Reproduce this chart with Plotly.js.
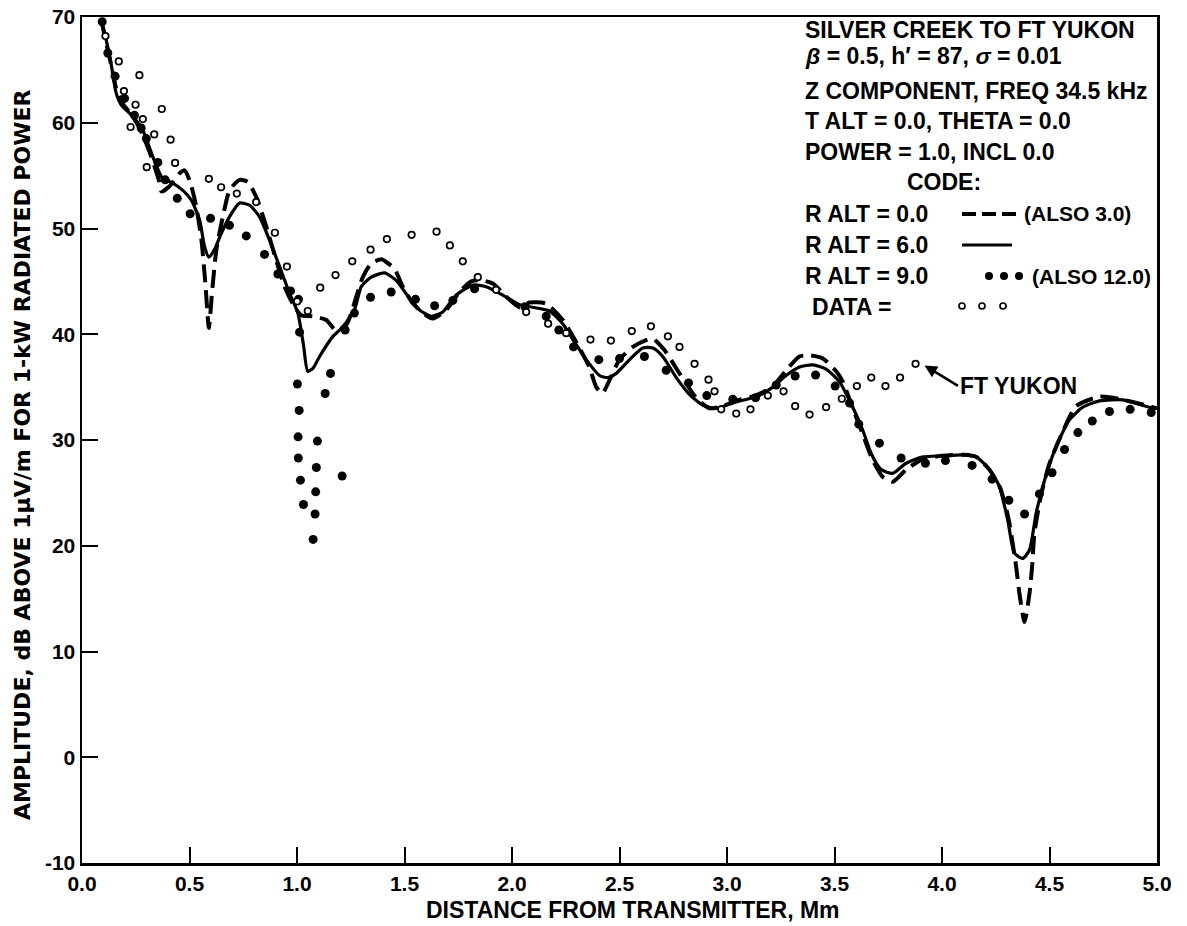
<!DOCTYPE html>
<html><head><meta charset="utf-8">
<script src="https://cdn.plot.ly/plotly-3.0.1.min.js"></script>
<style>html,body{margin:0;padding:0;background:#fff}</style>
</head><body><div id="chart" style="width:1187px;height:926px"></div>
<script>
// ---- data ----
const distDashed = [0.09,0.113,0.143,0.159,0.19,0.236,0.275,0.322,0.357,0.37,0.407,0.453,0.477,0.503,0.53,0.555,0.575,0.59,0.605,0.625,0.655,0.686,0.733,0.771,0.81,0.857,0.903,0.942,0.98,1.02,1.074,1.136,1.18,1.23,1.275,1.306,1.345,1.392,1.41,1.453,1.492,1.539,1.6,1.632,1.694,1.756,1.81,1.857,1.911,1.973,2.035,2.081,2.159,2.236,2.3,2.36,2.392,2.42,2.45,2.5,2.562,2.624,2.655,2.709,2.779,2.864,2.92,2.98,3.04,3.13,3.21,3.275,3.337,3.384,3.446,3.508,3.539,3.585,3.632,3.68,3.725,3.771,3.833,3.911,4.0,4.1,4.16,4.22,4.27,4.31,4.345,4.36,4.384,4.407,4.419,4.43,4.461,4.5,4.562,4.624,4.733,4.81,4.965,5.0];
const ampDashed = [69.7,67.5,64.8,63.2,61.8,60.6,59.2,56.8,54.6,53.5,54.0,55.2,55.5,54.4,52.2,49.0,44.5,40.6,44.0,48.0,51.1,53.6,54.6,54.4,53.0,50.2,47.0,44.5,42.9,41.8,41.7,41.35,40.4,40.9,43.5,45.4,46.7,47.1,46.9,46.2,44.5,42.9,41.8,41.5,42.3,44.0,45.0,45.1,44.8,43.55,42.55,43.0,42.9,41.35,39.2,36.9,35.0,34.4,35.5,37.6,38.8,39.45,39.6,38.5,36.3,33.8,33.0,33.2,33.7,34.2,35.0,36.6,37.9,38.0,37.7,36.5,35.5,33.0,30.5,28.0,26.5,26.05,27.2,28.2,28.5,28.6,28.4,27.2,25.5,22.5,18.0,15.5,12.8,15.5,18.0,21.2,24.8,27.8,30.8,33.2,34.1,33.95,33.2,33.0];

const distSolid = [0.09,0.106,0.136,0.159,0.182,0.236,0.283,0.329,0.376,0.422,0.469,0.508,0.547,0.57,0.59,0.616,0.647,0.686,0.733,0.779,0.826,0.872,0.919,0.965,1.004,1.03,1.05,1.075,1.105,1.167,1.213,1.267,1.299,1.345,1.407,1.461,1.523,1.57,1.624,1.678,1.74,1.818,1.88,1.957,2.035,2.081,2.174,2.236,2.283,2.345,2.407,2.445,2.485,2.547,2.608,2.655,2.701,2.764,2.826,2.887,2.95,3.043,3.136,3.213,3.275,3.337,3.399,3.461,3.523,3.585,3.632,3.671,3.717,3.771,3.833,3.911,4.004,4.097,4.159,4.221,4.267,4.306,4.337,4.376,4.407,4.438,4.477,4.531,4.593,4.655,4.733,4.841,4.965,5.0];
const ampSolid = [69.6,68.4,65.5,62.8,61.7,60.6,59.3,56.8,54.7,54.3,53.6,52.7,50.8,48.3,47.3,48.0,49.5,51.1,52.4,52.2,51.1,48.9,46.4,43.9,42.0,39.0,36.5,36.8,37.9,39.8,40.7,42.3,44.5,45.4,45.8,45.1,43.4,42.3,41.7,42.1,43.7,44.65,44.5,43.7,42.8,42.6,42.2,41.0,39.5,37.6,36.1,35.9,36.3,37.6,38.7,38.7,37.9,35.9,34.3,33.3,33.0,33.6,34.1,35.0,36.1,36.9,37.1,36.7,35.5,33.1,30.9,28.7,27.2,26.85,27.8,28.4,28.5,28.6,28.4,27.2,25.6,22.4,19.3,18.8,19.6,23.1,26.2,29.4,31.9,33.1,33.7,33.8,33.1,33.0];

const distDots = [0.094,0.12,0.154,0.198,0.244,0.275,0.299,0.353,0.387,0.443,0.503,0.598,0.686,0.764,0.849,0.911,0.97,1.007,1.012,1.002,1.01,1.005,1.006,1.016,1.03,1.075,1.084,1.087,1.09,1.095,1.131,1.156,1.21,1.224,1.267,1.342,1.438,1.551,1.64,1.725,1.826,2.06,2.159,2.218,2.286,2.404,2.5,2.616,2.717,2.821,2.906,3.027,3.133,3.229,3.317,3.412,3.503,3.57,3.613,3.709,3.81,3.923,4.016,4.14,4.233,4.311,4.384,4.453,4.512,4.57,4.632,4.699,4.779,4.875,4.973];
const ampDots = [69.55,66.6,64.4,62.3,60.7,59.5,58.5,56.25,54.6,52.85,51.4,50.96,50.3,49.3,47.55,45.7,44.1,43.3,40.2,35.3,32.8,30.3,28.3,26.2,23.9,20.6,23.0,25.1,27.4,29.9,34.4,36.3,26.6,40.4,42.0,43.5,44.0,43.3,42.7,43.2,44.3,42.6,41.7,40.4,38.8,37.6,37.7,37.9,36.6,35.4,34.2,33.85,34.0,35.2,36.05,36.15,35.1,33.5,31.5,29.7,28.3,27.8,28.05,27.6,26.3,24.3,23.0,24.9,26.9,29.1,30.7,31.8,32.7,32.9,32.6];

const distData = [0.109,0.171,0.195,0.226,0.249,0.267,0.283,0.301,0.336,0.371,0.412,0.433,0.59,0.647,0.72,0.81,0.897,0.953,1.001,1.05,1.108,1.179,1.257,1.342,1.418,1.533,1.649,1.711,1.771,1.841,1.926,2.066,2.168,2.252,2.365,2.46,2.557,2.646,2.725,2.779,2.849,2.914,2.942,2.973,3.043,3.109,3.19,3.263,3.317,3.384,3.461,3.534,3.604,3.671,3.737,3.805,3.877];
const ampData = [68.2,65.8,63.0,59.6,61.7,64.5,60.35,55.8,58.9,61.3,58.4,56.2,54.7,53.9,53.3,52.5,49.6,46.4,43.1,42.2,44.4,45.6,46.9,48.0,49.0,49.4,49.7,48.4,46.9,45.4,44.2,42.1,41.0,40.1,39.5,39.4,40.3,40.75,39.8,38.8,37.2,35.7,34.6,32.9,32.5,32.9,34.2,34.6,33.2,32.4,33.1,33.9,35.1,35.9,35.1,35.9,37.2];

const xTickVals = [0,0.5,1,1.5,2,2.5,3,3.5,4,4.5,5];
const xTickText = ['0.0','0.5','1.0','1.5','2.0','2.5','3.0','3.5','4.0','4.5','5.0'];
const yTickVals = [-10,0,10,20,30,40,50,60,70];
const yTickText = ['-10','0','10','20','30','40','50','60','70'];

const legendLines = [
  'SILVER CREEK TO FT YUKON',
  '<i>β</i> = 0.5, h′ = 87, <i>σ</i> = 0.01',
  'Z COMPONENT, FREQ 34.5 kHz',
  'T ALT = 0.0, THETA = 0.0',
  'POWER = 1.0, INCL 0.0'
];
const codeLines = ['R ALT = 0.0','R ALT = 6.0','R ALT = 9.0','DATA ='];
const codeNotes = ['(ALSO 3.0)','','(ALSO 12.0)',''];

// ---- layout helpers (plot area in page pixels) ----
const L = 82, R = 1157, T = 17, B = 863;
const PX = p => (p - L) / (R - L);
const PY = p => (B - p) / (B - T);
const FAM = 'Liberation Sans, Arial, Helvetica, sans-serif';
const F = {family: FAM, size: 23, color: '#000', weight: 'bold'};

const dashStyle = {color: '#000', width: 4, dash: '18px,8px', shape: 'spline', smoothing: 0.6};
const solidStyle = {color: '#000', width: 3.2, shape: 'spline', smoothing: 0.6};

const traces = [
  {x: distDashed, y: ampDashed, mode: 'lines', line: dashStyle, name: 'R ALT 0.0'},
  {x: distSolid, y: ampSolid, mode: 'lines', line: solidStyle, name: 'R ALT 6.0'},
  {x: distDots, y: ampDots, mode: 'markers', marker: {color: '#000', size: 9}, name: 'R ALT 9.0'},
  {x: distData, y: ampData, mode: 'markers', marker: {color: '#fff', size: 6.5, line: {color: '#000', width: 1.7}}, name: 'DATA'}
];

const annotations = [];
const textY = [30, 56, 91, 121, 152];
legendLines.forEach((t, i) => annotations.push({xref: 'paper', yref: 'paper', x: PX(803), y: PY(textY[i]), xanchor: 'left', yanchor: 'middle', text: t, showarrow: false, font: F}));
annotations.push({xref: 'paper', yref: 'paper', x: PX(905), y: PY(182), xanchor: 'left', yanchor: 'middle', text: 'CODE:', showarrow: false, font: F});
const codeY = [214, 245, 276, 307];
codeLines.forEach((t, i) => annotations.push({xref: 'paper', yref: 'paper', x: PX(i === 3 ? 810 : 803), y: PY(codeY[i]), xanchor: 'left', yanchor: 'middle', text: t, showarrow: false, font: F}));
const FN = {family: FAM, size: 21, color: '#000', weight: 'bold'};
codeNotes.forEach((t, i) => { if (t) annotations.push({xref: 'paper', yref: 'paper', x: PX(i === 0 ? 1022 : 1030), y: PY(codeY[i]), xanchor: 'left', yanchor: 'middle', text: t, showarrow: false, font: FN}); });
// FT YUKON pointer
annotations.push({x: distData[distData.length - 1] + 0.03, y: ampData[ampData.length - 1], xref: 'x', yref: 'y', ax: 36, ay: 22, text: 'FT YUKON', xanchor: 'left', yanchor: 'middle', showarrow: true, arrowhead: 2, arrowsize: 1, arrowwidth: 2.5, arrowcolor: '#000', standoff: 3, font: F});
// axis titles
annotations.push({xref: 'paper', yref: 'paper', x: PX(633), y: PY(910), xanchor: 'center', yanchor: 'middle', text: 'DISTANCE FROM TRANSMITTER, Mm', showarrow: false, font: {family: FAM, size: 23, color: '#000', weight: 'bold'}});
annotations.push({xref: 'paper', yref: 'paper', x: PX(22), y: PY(455), xanchor: 'center', yanchor: 'middle', textangle: -90, text: 'AMPLITUDE, dB ABOVE 1µV/m FOR 1-kW RADIATED POWER', showarrow: false, font: {family: 'DejaVu Sans, Liberation Sans, sans-serif', size: 22, color: '#000', weight: 'bold'}});

const shapes = [
  {type: 'line', xref: 'paper', yref: 'paper', x0: PX(962), x1: PX(1017), y0: PY(214), y1: PY(214), line: {color: '#000', width: 4, dash: '14px,6px'}},
  {type: 'line', xref: 'paper', yref: 'paper', x0: PX(962), x1: PX(1012), y0: PY(245), y1: PY(245), line: {color: '#000', width: 3}}
];
// legend symbol dots and circles
[989, 1004, 1019].forEach(cx => shapes.push({type: 'circle', xref: 'paper', yref: 'paper', x0: PX(cx - 4), x1: PX(cx + 4), y0: PY(276 + 4), y1: PY(276 - 4), fillcolor: '#000', line: {color: '#000', width: 0}}));
[962, 982, 1003].forEach(cx => shapes.push({type: 'circle', xref: 'paper', yref: 'paper', x0: PX(cx - 3), x1: PX(cx + 3), y0: PY(306 + 3), y1: PY(306 - 3), fillcolor: '#fff', line: {color: '#000', width: 1.7}}));

const axisCommon = {showgrid: false, zeroline: false, showline: true, mirror: true, linecolor: '#000', linewidth: 2.5, ticks: 'inside', ticklen: 16, tickwidth: 2, tickcolor: '#000', tickmode: 'array', tickfont: {family: FAM, size: 21, color: '#000', weight: 'bold'}, automargin: false};

const layout = {
  width: 1187, height: 926,
  margin: {l: L, r: 1187 - R, t: T, b: 926 - B},
  paper_bgcolor: '#fff', plot_bgcolor: '#fff',
  showlegend: false,
  xaxis: Object.assign({}, axisCommon, {range: [0, 5], tickvals: xTickVals, ticktext: xTickText}),
  yaxis: Object.assign({}, axisCommon, {range: [-10, 70], tickvals: yTickVals, ticktext: yTickText}),
  annotations: annotations,
  shapes: shapes
};

Plotly.newPlot('chart', traces, layout, {displayModeBar: false, staticPlot: true});
</script>
</body></html>
